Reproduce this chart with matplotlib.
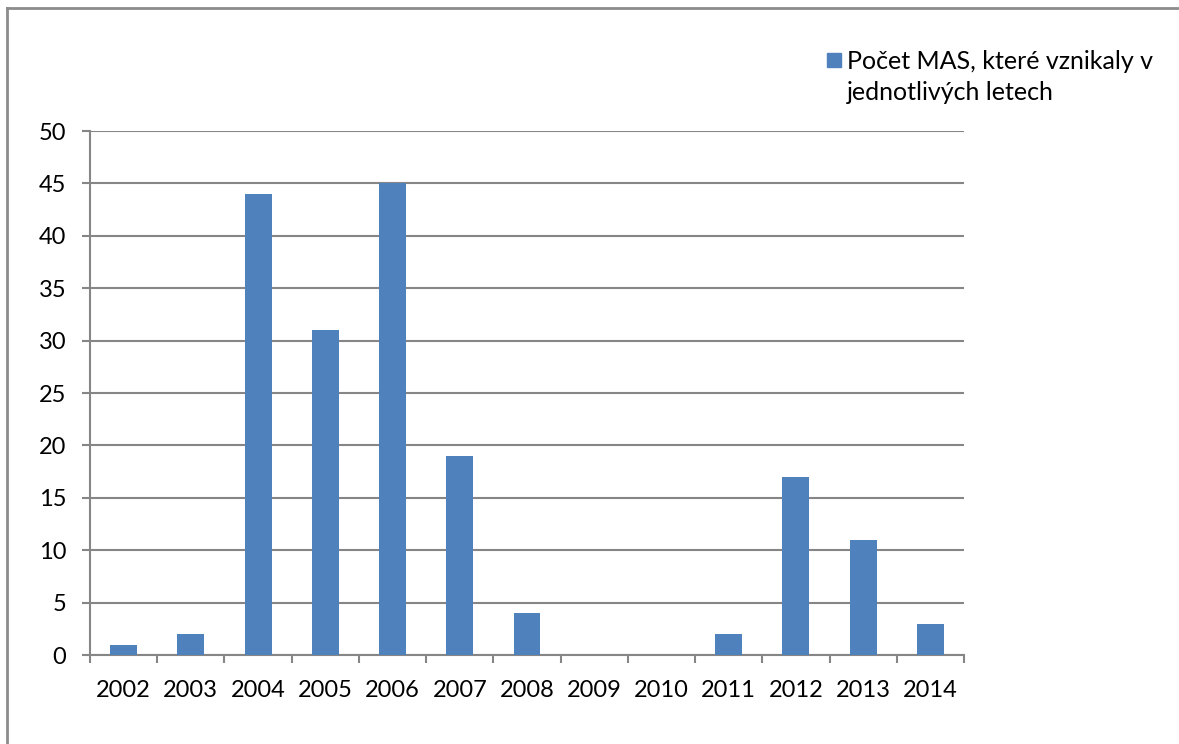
import numpy as np
import matplotlib
matplotlib.use("Agg")
import matplotlib.pyplot as plt
from matplotlib.patches import Rectangle
from matplotlib.lines import Line2D

plt.rcParams['font.family'] = ['Lato', 'DejaVu Sans']

years = ['2002', '2003', '2004', '2005', '2006', '2007', '2008',
         '2009', '2010', '2011', '2012', '2013', '2014']
counts = [1, 2, 44, 31, 45, 19, 4, 0, 0, 2, 17, 11, 3]
series_label = 'Počet MAS, které vznikaly v\njednotlivých letech'

bar_color = '#4F81BD'
grey = '#868686'

fig = plt.figure(figsize=(11.79, 7.44), dpi=100)
ax = fig.add_axes([90 / 1179, 1 - 655 / 744, 874 / 1179, 524 / 744])

x = np.arange(len(years))
ax.bar(x, counts, width=0.4, color=bar_color, zorder=3)

ax.set_xlim(-0.5, len(years) - 0.5)
ax.set_ylim(0, 50)
ax.set_yticks(np.arange(0, 51, 5))
ax.yaxis.grid(True, color=grey, linewidth=1.5, zorder=0)

ax.set_xticks(x)
ax.set_xticklabels(years)
ax.set_xticks(np.arange(-0.5, len(years), 1), minor=True)
ax.tick_params(axis='x', which='major', length=0, pad=18, labelsize=17)
ax.tick_params(axis='x', which='minor', length=6, width=1.5, color=grey)
ax.tick_params(axis='y', length=6, width=1.5, color=grey, pad=11, labelsize=17)

for s in ['top', 'right']:
    ax.spines[s].set_visible(False)
for s in ['left', 'bottom']:
    ax.spines[s].set_color(grey)
    ax.spines[s].set_linewidth(1.5)

# legend, Excel-style: square next to first line of wrapped text
fig.patches.append(Rectangle((827 / 1179, 1 - 67 / 744), 14 / 1179, 14 / 744,
                             transform=fig.transFigure, color=bar_color))
fig.text(847 / 1179, 1 - 77 / 744, series_label, fontsize=18, va='center',
         ha='left', linespacing=1.38)

# outer chart border (left and top edges visible)
fig.add_artist(Line2D([7 / 1179, 7 / 1179], [0, 1 - 8 / 744],
                      transform=fig.transFigure, color='#8c8c8c', lw=2))
fig.add_artist(Line2D([7 / 1179, 1], [1 - 8 / 744, 1 - 8 / 744],
                      transform=fig.transFigure, color='#8c8c8c', lw=2))

fig.savefig('out.png', dpi=100)
